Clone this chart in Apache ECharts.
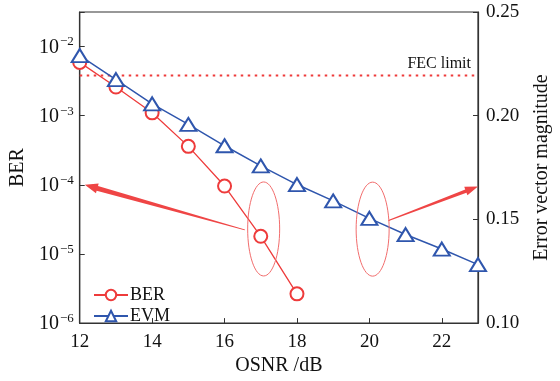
<!DOCTYPE html>
<html>
<head>
<meta charset="utf-8">
<script src="https://cdn.jsdelivr.net/npm/echarts@6/dist/echarts.min.js"></script>
<style>
  html, body { margin: 0; padding: 0; background: #fff; }
  #main { width: 560px; height: 381px; }
</style>
</head>
<body>
<div id="main"></div>
<script>
// OSNR (dB)
var osnrBer = [12, 13, 14, 15, 16, 17, 18];
var berVals = [5.9e-3, 2.6e-3, 1.1e-3, 3.6e-4, 9.6e-5, 1.8e-5, 2.65e-6];
var osnrEvm = [12, 13, 14, 15, 16, 17, 18, 19, 20, 21, 22, 23];
var evmVals = [0.229, 0.2174, 0.2057, 0.1958, 0.1855, 0.1758, 0.1668, 0.1589, 0.1505, 0.1427, 0.1357, 0.1282];
var xTicks = [12, 14, 16, 18, 20, 22];
var fecLimit = 3.8e-3;
var fecRange = [12, 23];

// annotation anchors (data coordinates)
var ellipseBer = [17.08, 2.3e-5];
var ellipseEvm = [20.09, 0.1453];
var arrowBer = [[16.56, 2.23e-5], [12.14, 1.0e-4]];
var arrowEvm = [[20.53, 0.1495], [23.0, 0.1659]];

var FONT = 'Liberation Serif';
var RED = '#ee3b3b';
var BLUE = '#2f56ad';
var AXIS = '#333';

var berData = osnrBer.map(function (x, i) { return [x, berVals[i]]; });
var evmData = osnrEvm.map(function (x, i) { return [x, evmVals[i]]; });
var fecData = fecRange.map(function (x) { return [x, fecLimit]; });

var chart = echarts.init(document.getElementById('main'));

var option = {
  animation: false,
  backgroundColor: '#fff',
  textStyle: { fontFamily: FONT },
  grid: {
    left: 79, right: 75, top: 12, bottom: 48,
    show: true, borderColor: AXIS, borderWidth: 1.2
  },
  legend: {
    orient: 'vertical',
    left: 88, top: 281,
    itemWidth: 34, itemHeight: 13, itemGap: 3,
    textStyle: { fontFamily: FONT, fontSize: 18, color: '#111', padding: [0, 0, 0, -3] },
    data: ['BER', 'EVM']
  },
  xAxis: {
    type: 'value',
    min: 12, max: 23, interval: 2,
    name: 'OSNR /dB',
    nameLocation: 'middle',
    nameGap: 29,
    nameTextStyle: { fontFamily: FONT, fontSize: 20, color: '#111' },
    axisLine: { lineStyle: { color: AXIS, width: 1.2 } },
    axisTick: { inside: true, length: 5, lineStyle: { color: AXIS } },
    axisLabel: {
      fontFamily: FONT, fontSize: 19, color: '#111', margin: 9,
      formatter: function (v) { return xTicks.indexOf(v) >= 0 ? String(v) : ''; }
    },
    splitLine: { show: false }
  },
  yAxis: [
    {
      type: 'log',
      min: 1e-6, max: Math.pow(10, -1.5),
      interval: 1,
      name: 'BER',
      nameLocation: 'middle',
      nameGap: 45,
      nameTextStyle: { fontFamily: FONT, fontSize: 20, color: '#111' },
      axisLine: { show: true, lineStyle: { color: AXIS, width: 1.2 } },
      axisTick: { inside: true, length: 5, lineStyle: { color: AXIS } },
      minorTick: { show: false },
      splitLine: { show: false },
      axisLabel: {
        margin: 6,
        formatter: function (v) {
          var l = Math.log10(v);
          var e = Math.round(l);
          if (Math.abs(l - e) > 0.01) return '';
          return '{b|10}{s|\u2212' + Math.abs(e) + '}';
        },
        rich: {
          b: { fontFamily: FONT, fontSize: 20, color: '#111', verticalAlign: 'bottom', lineHeight: 22 },
          s: { fontFamily: FONT, fontSize: 13, color: '#111', verticalAlign: 'top', lineHeight: 14, padding: [0, 0, 0, 1] }
        }
      }
    },
    {
      type: 'value',
      position: 'right',
      min: 0.10, max: 0.25, interval: 0.05,
      name: 'Error vector magnitude',
      nameLocation: 'middle',
      nameGap: 54,
      nameRotate: 90,
      nameTextStyle: { fontFamily: FONT, fontSize: 20, color: '#111' },
      axisLine: { show: true, lineStyle: { color: AXIS, width: 1.2 } },
      axisTick: { inside: true, length: 5, lineStyle: { color: AXIS } },
      splitLine: { show: false },
      axisLabel: {
        fontFamily: FONT, fontSize: 19, color: '#111', margin: 8,
        formatter: function (v) { return v.toFixed(2); }
      }
    }
  ],
  series: [
    {
      name: 'FEC',
      type: 'line',
      yAxisIndex: 0,
      data: fecData,
      symbol: 'none',
      silent: true,
      lineStyle: { color: RED, type: [2.5, 4.5], width: 2 },
      z: 2
    },
    {
      name: 'BER',
      type: 'line',
      yAxisIndex: 0,
      data: berData,
      symbol: 'emptyCircle',
      symbolSize: 13,
      color: RED,
      lineStyle: { color: RED, width: 1.3 },
      itemStyle: { color: RED, borderWidth: 1.3 },
      z: 3
    },
    {
      name: 'EVM',
      type: 'line',
      yAxisIndex: 1,
      data: evmData,
      symbol: 'emptyTriangle',
      symbolSize: [16, 13],
      color: BLUE,
      lineStyle: { color: BLUE, width: 1.5 },
      itemStyle: { color: BLUE, borderWidth: 1.5 },
      z: 4
    }
  ]
};

chart.setOption(option);

// annotation overlay: FEC label, ellipses and arrows
function px(axisIdx, pt) {
  return chart.convertToPixel({ xAxisIndex: 0, yAxisIndex: axisIdx }, pt);
}

function arrowPoints(a, b, wTail, wShaft, headLen, headW) {
  var dx = b[0] - a[0], dy = b[1] - a[1];
  var L = Math.sqrt(dx * dx + dy * dy);
  var ux = dx / L, uy = dy / L;
  var nx = -uy, ny = ux;
  var bx = b[0] - ux * headLen, by = b[1] - uy * headLen;
  return [
    [a[0] + nx * wTail / 2, a[1] + ny * wTail / 2],
    [bx + nx * wShaft / 2, by + ny * wShaft / 2],
    [bx + nx * headW / 2, by + ny * headW / 2],
    [b[0], b[1]],
    [bx - nx * headW / 2, by - ny * headW / 2],
    [bx - nx * wShaft / 2, by - ny * wShaft / 2],
    [a[0] - nx * wTail / 2, a[1] - ny * wTail / 2]
  ];
}

var fecEnd = px(0, [fecRange[1], fecLimit]);
var e1 = px(0, ellipseBer);
var e2 = px(1, ellipseEvm);
var a1 = [px(0, arrowBer[0]), px(0, arrowBer[1])];
var a2 = [px(1, arrowEvm[0]), px(1, arrowEvm[1])];

chart.setOption({
  graphic: [
    {
      type: 'text', silent: true, z: 10,
      x: fecEnd[0] - 7, y: fecEnd[1] - 4,
      style: {
        text: 'FEC limit', fontFamily: FONT, fontSize: 16, fill: '#111',
        align: 'right', verticalAlign: 'bottom'
      }
    },
    {
      type: 'ellipse', silent: true, z: 10,
      shape: { cx: e1[0], cy: e1[1], rx: 16, ry: 47 },
      style: { fill: 'none', stroke: '#f26d6d', lineWidth: 1 }
    },
    {
      type: 'ellipse', silent: true, z: 10,
      shape: { cx: e2[0], cy: e2[1], rx: 16.5, ry: 47 },
      style: { fill: 'none', stroke: '#f26d6d', lineWidth: 1 }
    },
    {
      type: 'polygon', silent: true, z: 10,
      shape: { points: arrowPoints(a1[0], a1[1], 0.8, 5, 13, 10) },
      style: { fill: '#ef4545' }
    },
    {
      type: 'polygon', silent: true, z: 10,
      shape: { points: arrowPoints(a2[0], a2[1], 1.2, 3.5, 13, 9) },
      style: { fill: '#ef4545' }
    }
  ]
});
</script>
</body>
</html>
